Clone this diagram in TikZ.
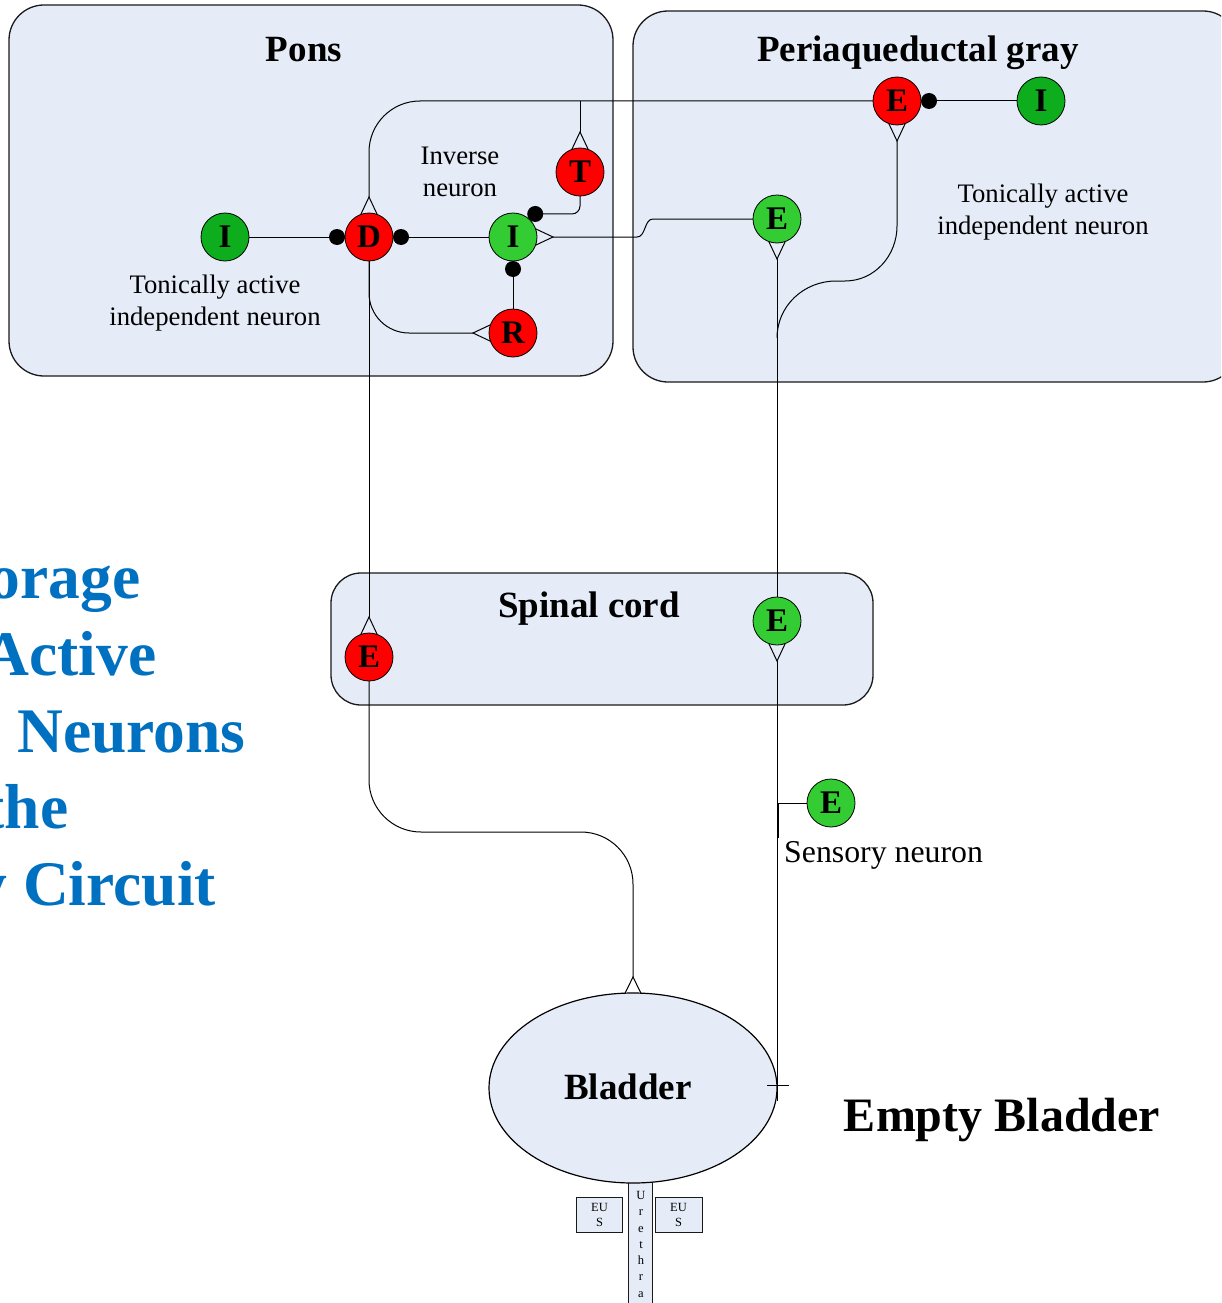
\documentclass[tikz,border=0pt]{standalone}
\usepackage{fontspec}
\setmainfont{Liberation Serif}
\usetikzlibrary{calc,shapes.geometric}

\definecolor{boxfill}{HTML}{E6ECF7}
\definecolor{nred}{HTML}{FF0000}
\definecolor{ngreen}{HTML}{33CC33}
\definecolor{dgreen}{HTML}{0DAD1E}
\definecolor{tblue}{HTML}{0070C0}
\definecolor{edgec}{HTML}{1A1A1A}

\tikzset{
  region/.style={draw=edgec, line width=1.3pt, fill=boxfill, rounded corners=35pt,
    anchor=north west, outer sep=0pt, inner sep=0pt},
  neuron/.style={circle, draw=black, line width=0.8pt, minimum size=48pt, inner sep=0pt,
    font=\fontsize{33}{33}\selectfont\bfseries},
  redn/.style={neuron, fill=nred},
  grnn/.style={neuron, fill=ngreen},
  dgrn/.style={neuron, fill=dgreen},
  titletext/.style={font=\fontsize{37}{44}\selectfont\bfseries, anchor=base, inner sep=0pt},
  lbl/.style={font=\fontsize{26.7}{32}\selectfont, align=center},
  wire/.style={line width=1pt, draw=black},
  inhib/.style={circle, fill=black, minimum size=16pt, inner sep=0pt, outer sep=0pt},
  bluetext/.style={font=\fontsize{63.5}{63.5}\selectfont\bfseries, text=tblue, anchor=base west, inner sep=0pt},
  smallbox/.style={draw=edgec, line width=0.8pt, fill=boxfill, inner sep=0pt, outer sep=0pt,
    font=\fontsize{12.5}{15}\selectfont, align=center},
}

\newcommand\synexc[3]{%
  \coordinate (#3) at ($(#1)+(#2:40)$);
  \draw[wire] ($(#1)+(#2+20:24)$) -- (#3) -- ($(#1)+(#2-20:24)$);}

\begin{document}
\begin{tikzpicture}[x=1pt,y=1pt]
\useasboundingbox (0,0) rectangle (1221,-1303);
\clip (0,0) rectangle (1221,-1303);

% regions
\node[region, minimum width=604pt, minimum height=371pt] (pons) at (9,-5) {};
\node[region, minimum width=605pt, minimum height=371pt] (pag) at (633,-11) {};
\node[region, rounded corners=30pt, minimum width=542pt, minimum height=132pt] (spinal) at (331,-573) {};

\node[titletext] (ponsT) at (304,-61.5) {Pons};
\node[titletext] (pagT) at (918,-61.5) {Periaqueductal gray};
\node[titletext] (spT) at (589,-617.5) {Spinal cord};

% urethra and EUS
\node[smallbox, anchor=north, minimum width=24pt, minimum height=130pt] (ureth) at (640,-1180) {};
\node[anchor=north, inner sep=0pt, font=\fontsize{12.5}{16.3}\selectfont, align=center] (urtxt) at (641,-1191)
  {U\\r\\e\\t\\h\\r\\a};
\node[smallbox, minimum width=46pt, minimum height=35pt] (eusL) at (599.5,-1214.5) {EU\\S};
\node[smallbox, minimum width=47pt, minimum height=35pt] (eusR) at (678.5,-1214.5) {EU\\S};

% bladder
\node[ellipse, draw=black, line width=1.2pt, fill=boxfill, minimum width=288pt, minimum height=190pt,
  inner sep=0pt, outer sep=0pt] (bl) at (633,-1088) {};
\node[titletext] (blT) at (628,-1099.5) {Bladder};
\node[font=\fontsize{48}{56}\selectfont\bfseries, anchor=base, inner sep=0pt] (empty) at (1002,-1131) {Empty Bladder};

% texts
\node[lbl] (invT) at (460,-172) {Inverse\\neuron};
\node[lbl] (tonL) at (215,-303) {Tonically active\\independent neuron};
\node[lbl] (tonR) at (1043,-212) {Tonically active\\independent neuron};
\node[font=\fontsize{31.8}{36}\selectfont, anchor=west, inner sep=0pt] (sensT) at (784,-855) {Sensory neuron};

% blue title text (cut at left edge)
\node[bluetext] (b1) at (-11.5,-598) {orage};
\node[bluetext] (b2) at (-16.6,-675) {Active};
\node[bluetext] (b3) at (17,-752) {Neurons};
\node[bluetext] (b4) at (-16.6,-828) {the};
\node[bluetext] (b5) at (-24.7,-905) {y Circuit};

% neuron positions
\coordinate (pIL) at (225,-237);
\coordinate (pD) at (369,-237);
\coordinate (pII) at (513,-237);
\coordinate (pT) at (580,-172);
\coordinate (pR) at (513,-333);
\coordinate (pEPR) at (897,-101);
\coordinate (pIP) at (1041,-101);
\coordinate (pEPG) at (777,-219);
\coordinate (pESG) at (777,-621);
\coordinate (pESR) at (369,-657);
\coordinate (pES) at (831,-803);

% inhibitory dots
\node[inhib] (Dl) at ($(pD)+(180:32)$) {};
\node[inhib] (Dr) at ($(pD)+(0:32)$) {};
\node[inhib] (It) at ($(pII)+(46:32)$) {};
\node[inhib] (Ib) at ($(pII)+(270:32)$) {};
\node[inhib] (Er) at ($(pEPR)+(0:32)$) {};

% excitatory markers
\synexc{pD}{90}{Dt}
\synexc{pT}{90}{Tt}
\synexc{pII}{0}{Ir}
\synexc{pR}{180}{Rl}
\synexc{pEPR}{270}{Eb}
\synexc{pEPG}{270}{Gb}
\synexc{pESG}{270}{Sb}
\synexc{pESR}{90}{St}

\coordinate (Bt) at (633,-977);
\draw[wire] ($(bl.north)+(-8,-0.3)$) -- (Bt) -- ($(bl.north)+(8,-0.3)$);

% junction coordinates
\coordinate (tj) at (580,-101);
\coordinate (merge) at (777,-338);
\coordinate (bx) at (777,-1101);
\coordinate (sj) at (778,-803);
\coordinate (sd) at (778,-838);
\coordinate (crL) at (767,-1085);
\coordinate (crR) at (789,-1085);

% wires
\draw[wire] (pIL) ++(24,0) -- (Dl.west);
\draw[wire] ($(pII)+(-24,0)$) -- (Dr.east);
\draw[wire, rounded corners=51pt] (Dt) |- ($(pEPR)+(-24,0)$);
\draw[wire] (tj) -- (Tt);
\draw[wire, rounded corners=8pt] ($(pT)+(0,-24)$) |- (It.east);
\draw[wire] ($(pR)+(0,24)$) -- (Ib.south);
\draw[wire, rounded corners=40pt] ($(pD)+(0,-24)$) |- (Rl);
\draw[wire] (Ir) -- (637,-237) .. controls (646,-237) and (644,-219) .. (653,-219) -- ($(pEPG)+(-24,0)$);
\draw[wire] ($(pIP)+(-24,0)$) -- (Er.east);
\draw[wire] (Eb) -- (897,-226) to[out=-90,in=0] (845,-281) -- (836,-281) to[out=180,in=90] (merge);
\draw[wire] (Gb) -- ($(pESG)+(0,24)$);
\draw[wire] (Sb) -- (bx);
\draw[wire] (crL) -- (crR);
\draw[wire] ($(pES)+(-24,0)$) -- (sj);
\draw[line width=2.2pt] (sj) -- (sd);
\draw[wire] ($(pD)+(0,-24)$) -- (St);
\draw[wire, rounded corners=52pt] ($(pESR)+(0,-24)$) |- (500,-832) -| (Bt);

% neurons
\node[dgrn] (IL) at (pIL) {I};
\node[redn] (D) at (pD) {D};
\node[grnn] (II) at (pII) {I};
\node[redn] (T) at (pT) {T};
\node[redn] (R) at (pR) {R};
\node[redn] (EPR) at (pEPR) {E};
\node[dgrn] (IP) at (pIP) {I};
\node[grnn] (EPG) at (pEPG) {E};
\node[grnn] (ESG) at (pESG) {E};
\node[redn] (ESR) at (pESR) {E};
\node[grnn] (ES) at (pES) {E};
\end{tikzpicture}
\end{document}
